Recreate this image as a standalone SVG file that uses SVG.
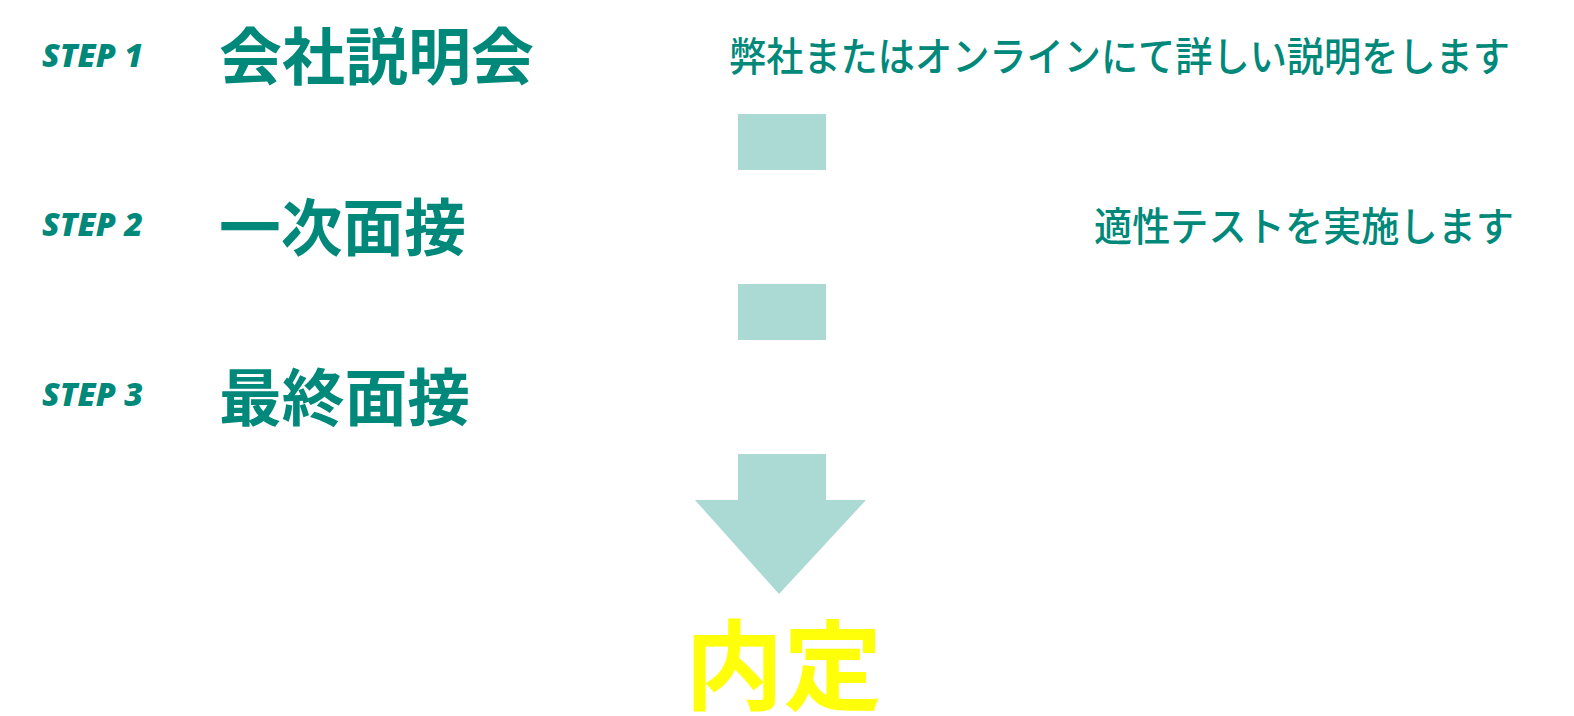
<svg xmlns="http://www.w3.org/2000/svg" width="1574" height="716" viewBox="0 0 1574 716">
<style>
.step{font-family:"Open Sans","Liberation Sans",sans-serif;font-weight:800;font-style:italic;font-size:32px;fill:#00897a}
.title{font-family:"Noto Sans CJK JP","Noto Sans",sans-serif;font-weight:700;font-size:62px;fill:#00897a}
.desc{font-family:"Noto Sans CJK JP","Noto Sans",sans-serif;font-weight:500;font-size:40px;fill:#00897a}
.goal{font-family:"Noto Sans CJK JP","Noto Sans",sans-serif;font-weight:700;font-size:98px;fill:#ffff0a}
.bar{fill:#abd9d4}
</style>
<rect width="1574" height="716" fill="#ffffff"/>
<g id="step1">
<text class="step" x="42" y="67" textLength="101" lengthAdjust="spacingAndGlyphs">STEP 1</text>
<text class="title" x="219" y="80" textLength="315" lengthAdjust="spacingAndGlyphs">会社説明会</text>
<text class="desc" x="729" y="71" textLength="781" lengthAdjust="spacingAndGlyphs">弊社またはオンラインにて詳しい説明をします</text>
</g>
<g id="step2">
<text class="step" x="42" y="236" textLength="101" lengthAdjust="spacingAndGlyphs">STEP 2</text>
<text class="title" x="219" y="251" textLength="247" lengthAdjust="spacingAndGlyphs">一次面接</text>
<text class="desc" x="1094" y="241" textLength="420" lengthAdjust="spacingAndGlyphs">適性テストを実施します</text>
</g>
<g id="step3">
<text class="step" x="42" y="406" textLength="101" lengthAdjust="spacingAndGlyphs">STEP 3</text>
<text class="title" x="219" y="421" textLength="251" lengthAdjust="spacingAndGlyphs">最終面接</text>
</g>
<g id="connectors">
<rect class="bar" x="738" y="114" width="88" height="56"/>
<rect class="bar" x="738" y="284" width="88" height="56"/>
<path class="bar" d="M738 454 H826 V500 H866 L779 594 L695 500 H738 Z"/>
</g>
<g id="goal">
<text class="goal" x="685" y="702" textLength="197" lengthAdjust="spacingAndGlyphs">内定</text>
</g>
</svg>
